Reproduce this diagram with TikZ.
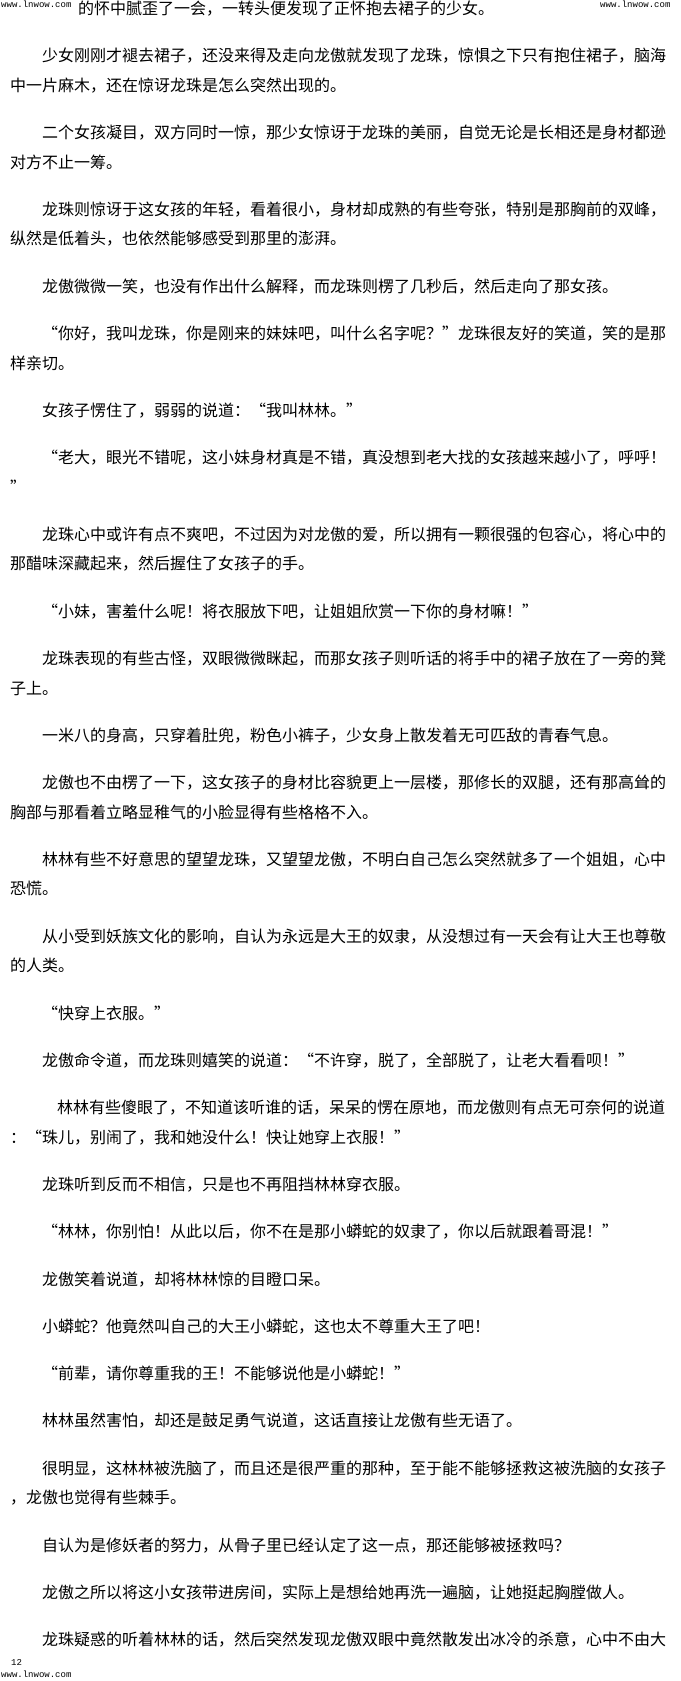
\documentclass[tikz,border=0pt]{standalone}
\usepackage{fontspec}
\newfontfamily\cjk{Noto Sans CJK SC}
\newfontfamily\wmfont{Liberation Mono}
\begin{document}
\begin{tikzpicture}[x=1pt,y=-1pt,
  ln/.style={anchor=base west,inner sep=0pt,font=\cjk\fontsize{16}{16}\selectfont},
  wm/.style={anchor=base west,inner sep=0pt,font=\wmfont\fontsize{9}{9}\selectfont}]
\fill[white] (0,0) rectangle (680,1681);
\useasboundingbox (0,0) rectangle (680,1681);
\node[wm] (wm1) at (1,8) {www.lnwow.com};
\node[wm] (wm2) at (600,8) {www.lnwow.com};
\node[ln] (l1) at (78,14.5) {的怀中腻歪了一会，一转头便发现了正怀抱去裙子的少女。};
\node[ln] (l2) at (42,61.8) {少女刚刚才褪去裙子，还没来得及走向龙傲就发现了龙珠，惊惧之下只有抱住裙子，脑海};
\node[ln] (l3) at (10,91.3) {中一片麻木，还在惊讶龙珠是怎么突然出现的。};
\node[ln] (l4) at (42,138.6) {二个女孩凝目，双方同时一惊，那少女惊讶于龙珠的美丽，自觉无论是长相还是身材都逊};
\node[ln] (l5) at (10,168.1) {对方不止一筹。};
\node[ln] (l6) at (42,215.4) {龙珠则惊讶于这女孩的年轻，看着很小，身材却成熟的有些夸张，特别是那胸前的双峰，};
\node[ln] (l7) at (10,244.9) {纵然是低着头，也依然能够感受到那里的澎湃。};
\node[ln] (l8) at (42,292.2) {龙傲微微一笑，也没有作出什么解释，而龙珠则楞了几秒后，然后走向了那女孩。};
\node[ln] (l9) at (42,339.5) {“你好，我叫龙珠，你是刚来的妹妹吧，叫什么名字呢？”龙珠很友好的笑道，笑的是那};
\node[ln] (l10) at (10,369.0) {样亲切。};
\node[ln] (l11) at (42,416.3) {女孩子愣住了，弱弱的说道：“我叫林林。”};
\node[ln] (l12) at (42,463.6) {“老大，眼光不错呢，这小妹身材真是不错，真没想到老大找的女孩越来越小了，呼呼！};
\node[ln] (l13) at (10,493.1) {”};
\node[ln] (l14) at (42,540.4) {龙珠心中或许有点不爽吧，不过因为对龙傲的爱，所以拥有一颗很强的包容心，将心中的};
\node[ln] (l15) at (10,569.9) {那醋味深藏起来，然后握住了女孩子的手。};
\node[ln] (l16) at (42,617.2) {“小妹，害羞什么呢！将衣服放下吧，让姐姐欣赏一下你的身材嘛！”};
\node[ln] (l17) at (42,664.5) {龙珠表现的有些古怪，双眼微微眯起，而那女孩子则听话的将手中的裙子放在了一旁的凳};
\node[ln] (l18) at (10,694.0) {子上。};
\node[ln] (l19) at (42,741.3) {一米八的身高，只穿着肚兜，粉色小裤子，少女身上散发着无可匹敌的青春气息。};
\node[ln] (l20) at (42,788.6) {龙傲也不由楞了一下，这女孩子的身材比容貌更上一层楼，那修长的双腿，还有那高耸的};
\node[ln] (l21) at (10,818.1) {胸部与那看着立略显稚气的小脸显得有些格格不入。};
\node[ln] (l22) at (42,865.4) {林林有些不好意思的望望龙珠，又望望龙傲，不明白自己怎么突然就多了一个姐姐，心中};
\node[ln] (l23) at (10,894.9) {恐慌。};
\node[ln] (l24) at (42,942.2) {从小受到妖族文化的影响，自认为永远是大王的奴隶，从没想过有一天会有让大王也尊敬};
\node[ln] (l25) at (10,971.7) {的人类。};
\node[ln] (l26) at (42,1019.0) {“快穿上衣服。”};
\node[ln] (l27) at (42,1066.3) {龙傲命令道，而龙珠则嬉笑的说道：“不许穿，脱了，全部脱了，让老大看看呗！”};
\node[ln] (l28) at (57,1113.6) {林林有些傻眼了，不知道该听谁的话，呆呆的愣在原地，而龙傲则有点无可奈何的说道};
\node[ln] (l29) at (10,1143.1) {：“珠儿，别闹了，我和她没什么！快让她穿上衣服！”};
\node[ln] (l30) at (42,1190.4) {龙珠听到反而不相信，只是也不再阻挡林林穿衣服。};
\node[ln] (l31) at (42,1237.7) {“林林，你别怕！从此以后，你不在是那小蟒蛇的奴隶了，你以后就跟着哥混！”};
\node[ln] (l32) at (42,1285.0) {龙傲笑着说道，却将林林惊的目瞪口呆。};
\node[ln] (l33) at (42,1332.3) {小蟒蛇？他竟然叫自己的大王小蟒蛇，这也太不尊重大王了吧！};
\node[ln] (l34) at (42,1379.6) {“前辈，请你尊重我的王！不能够说他是小蟒蛇！”};
\node[ln] (l35) at (42,1426.9) {林林虽然害怕，却还是鼓足勇气说道，这话直接让龙傲有些无语了。};
\node[ln] (l36) at (42,1474.2) {很明显，这林林被洗脑了，而且还是很严重的那种，至于能不能够拯救这被洗脑的女孩子};
\node[ln] (l37) at (10,1503.7) {，龙傲也觉得有些棘手。};
\node[ln] (l38) at (42,1551.0) {自认为是修妖者的努力，从骨子里已经认定了这一点，那还能够被拯救吗？};
\node[ln] (l39) at (42,1598.3) {龙傲之所以将这小女孩带进房间，实际上是想给她再洗一遍脑，让她挺起胸膛做人。};
\node[ln] (l40) at (42,1645.6) {龙珠疑惑的听着林林的话，然后突然发现龙傲双眼中竟然散发出冰冷的杀意，心中不由大};
\node[wm] (pg) at (11,1665) {12};
\node[wm] (wm3) at (1,1677) {www.lnwow.com};
\end{tikzpicture}
\end{document}
